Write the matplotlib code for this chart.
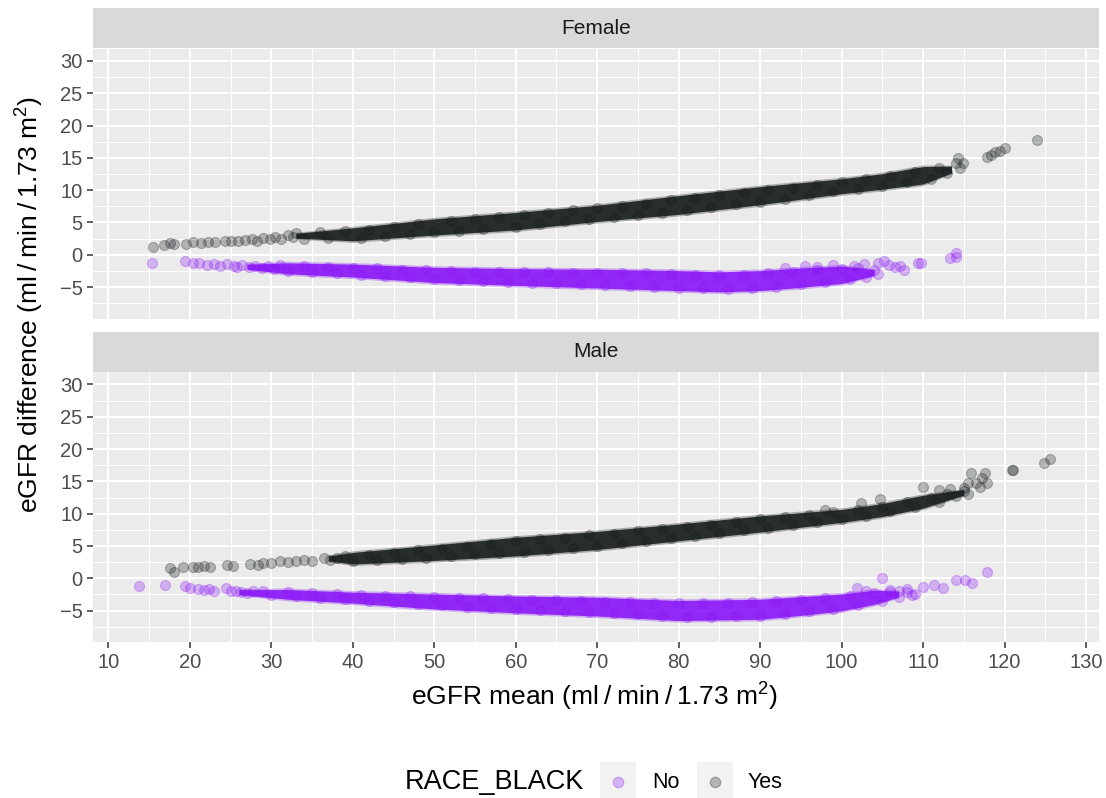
import matplotlib
matplotlib.use("Agg")
import matplotlib.pyplot as plt
import numpy as np
from matplotlib.patches import Rectangle
from matplotlib.lines import Line2D

plt.rcParams['font.family'] = ['Liberation Sans', 'DejaVu Sans']
plt.rcParams['mathtext.default'] = 'regular'

# ---------------- data ----------------
panels = ["Female", "Male"]
groups = ["No", "Yes"]
x_ticks = [10, 20, 30, 40, 50, 60, 70, 80, 90, 100, 110, 120, 130]
y_ticks = [-5, 0, 5, 10, 15, 20, 25, 30]

# dense core of each cloud: x, lower edge, upper edge (point centres)
fem_yes_band_x = [33, 40, 50, 60, 70, 80, 90, 100, 105, 110, 113.5]
fem_yes_band_lo = [2.9, 2.7, 3.6, 4.4, 5.7, 6.8, 8.3, 10.0, 10.7, 11.5, 13.0]
fem_yes_band_hi = [3.0, 3.6, 5.0, 6.0, 7.1, 8.6, 10.0, 11.2, 12.0, 13.1, 13.4]

fem_no_band_x = [27, 32, 40, 50, 60, 70, 80, 85, 90, 95, 100, 104]
fem_no_band_lo = [-1.9, -2.4, -2.9, -3.75, -4.2, -4.6, -5.0, -5.2, -5.0, -4.5, -3.9, -2.9]
fem_no_band_hi = [-1.8, -1.8, -2.0, -2.5, -2.7, -2.8, -3.0, -3.2, -3.0, -2.6, -2.3, -2.6]

male_yes_band_x = [37, 40, 50, 60, 70, 80, 90, 100, 105, 110, 115]
male_yes_band_lo = [3.0, 2.75, 3.3, 4.0, 5.0, 6.35, 7.7, 9.2, 10.1, 11.4, 13.2]
male_yes_band_hi = [3.1, 3.45, 4.6, 5.8, 6.7, 7.85, 9.1, 10.1, 11.0, 12.3, 13.4]

male_no_band_x = [26, 32, 40, 50, 60, 70, 80, 90, 95, 100, 104, 107]
male_no_band_lo = [-2.2, -2.7, -3.3, -4.2, -4.8, -5.3, -6.0, -5.8, -5.2, -4.5, -3.5, -2.6]
male_no_band_hi = [-2.1, -2.3, -2.7, -3.0, -3.3, -3.5, -4.0, -3.8, -3.4, -3.0, -2.4, -2.3]

# individual points (edges of the clouds and sparse tails)
fem_yes_pts = [
    (15.5, 1.25), (16.8, 1.5), (17.6, 1.8), (18.1, 1.7), (19.5, 1.7), (20.4, 1.9),
    (21.3, 1.8), (22.2, 2.0), (23.1, 1.9), (24.3, 2.1), (25.1, 2.2), (25.9, 2.1),
    (26.8, 2.3), (27.6, 2.4), (28.2, 2.2), (29.0, 2.6), (29.8, 2.4), (30.5, 2.8),
    (31.2, 2.5), (32.0, 3.0), (32.6, 2.7),
    (33, 3.3), (34, 2.5), (36, 3.5), (37, 2.6), (39, 3.7), (41, 2.6), (42, 3.9),
    (44, 2.9), (45, 4.3), (47, 3.2), (48, 4.8), (50, 3.5), (52, 5.2), (53, 3.7),
    (55, 5.5), (56, 4.0), (58, 5.9), (60, 4.3), (61, 6.2), (63, 4.7), (64, 6.5),
    (66, 5.2), (67, 6.9), (69, 5.5), (70, 7.2), (72, 5.9), (73, 7.6), (75, 6.1),
    (76, 7.9), (78, 6.5), (79, 8.5), (81, 7.0), (82, 8.8), (84, 7.4), (85, 9.2),
    (87, 7.9), (88, 9.6), (90, 8.2), (91, 10.1), (93, 8.7), (94, 10.4), (96, 9.3),
    (97, 10.8), (99, 9.8), (100, 11.3), (102, 10.2), (103, 11.8), (105, 10.6),
    (106, 12.2), (108, 11.2), (109, 12.8), (111, 11.8), (112, 13.4), (113, 12.6),
    (114, 14.2), (114.3, 15.0), (114.9, 14.2), (114.5, 13.5),
    (117.8, 15.15), (118.3, 15.5), (118.8, 15.9), (119.4, 16.0), (120.1, 16.5),
    (124.0, 17.7),
]
fem_no_pts = [
    (15.4, -1.2), (19.4, -0.9), (20.4, -1.2), (21.1, -1.3), (22.1, -1.6), (22.9, -1.4),
    (23.7, -1.7), (24.5, -1.5), (25.4, -1.8), (25.8, -1.9), (26.4, -1.6), (27.2, -1.9),
    (28.0, -1.7), (28.8, -2.1), (29.6, -1.8), (30.3, -2.2),
    (31, -1.6), (32, -2.5), (34, -1.8), (35, -2.7), (37, -1.9), (38, -2.9), (40, -2.0),
    (41, -3.1), (43, -2.1), (44, -3.3), (46, -2.3), (47, -3.5), (49, -2.4), (50, -3.8),
    (52, -2.5), (53, -3.9), (55, -2.6), (56, -4.0), (58, -2.6), (59, -4.2), (61, -2.7),
    (62, -4.3), (64, -2.7), (65, -4.4), (67, -2.8), (68, -4.6), (70, -2.8), (71, -4.7),
    (73, -2.9), (74, -4.8), (76, -2.9), (77, -5.0), (79, -3.0), (80, -5.1), (82, -3.1),
    (83, -5.2), (85, -3.2), (86, -5.3), (88, -3.1), (89, -5.1), (91, -2.9), (92, -5.0),
    (94, -2.6), (95, -4.6), (97, -2.4), (98, -4.2), (100, -2.2), (101, -3.8),
    (102, -2.0), (103, -3.5), (104, -2.3), (104.5, -3.0),
    (93.0, -2.0), (95.5, -1.8), (97.0, -1.9), (99.0, -1.6), (101.5, -1.7), (102.8, -1.5),
    (104.5, -1.3), (105.2, -0.9), (105.8, -1.6), (106.5, -1.9), (107.2, -1.8),
    (107.6, -2.3), (109.4, -1.3), (109.8, -1.2), (113.3, -0.55), (114.0, 0.3),
    (114.1, -0.3),
]
male_yes_pts = [
    (17.6, 1.55), (18.0, 1.0), (19.2, 1.8), (20.4, 1.8), (21.0, 1.7), (21.7, 1.9),
    (22.5, 1.8), (24.6, 2.05), (25.3, 1.9), (27.4, 2.2), (28.3, 2.1), (29.0, 2.3),
    (30.0, 2.4), (31.1, 2.7), (32.0, 2.5), (33.0, 2.7), (34.0, 2.8), (35.0, 2.6),
    (36.4, 3.1), (37.2, 2.9), (38.0, 3.2),
    (39, 3.4), (40, 2.6), (42, 3.6), (43, 2.8), (45, 3.9), (46, 3.0), (48, 4.3),
    (49, 3.2), (51, 4.6), (52, 3.4), (54, 4.9), (55, 3.7), (57, 5.3), (58, 3.9),
    (60, 5.8), (61, 4.1), (63, 6.0), (64, 4.4), (66, 6.3), (67, 4.7), (69, 6.7),
    (70, 5.0), (72, 6.9), (73, 5.4), (75, 7.3), (76, 5.8), (78, 7.6), (79, 6.2),
    (81, 8.0), (82, 6.6), (84, 8.3), (85, 7.0), (87, 8.7), (88, 7.4), (90, 9.1),
    (91, 7.8), (93, 9.5), (94, 8.3), (96, 9.8), (97, 8.7), (99, 10.2), (100, 9.2),
    (102, 10.6), (103, 9.7), (105, 11.1), (106, 10.4), (108, 11.8), (109, 11.1),
    (111, 12.5), (112, 11.8), (113, 13.1), (114, 12.7), (115, 13.5), (115.5, 13.0),
    (98.0, 10.6), (102.4, 11.6), (104.7, 12.2), (110.0, 14.2), (112.0, 13.6),
    (113.3, 13.8), (115.0, 14.0), (115.5, 14.7), (116.5, 14.8), (117.0, 14.2),
    (117.8, 14.7), (117.2, 15.5), (115.9, 16.35), (117.6, 16.25), (120.9, 16.8),
    (121.1, 16.7), (124.8, 17.8), (125.6, 18.45),
]
male_no_pts = [
    (13.7, -1.2), (17.0, -1.05), (19.4, -1.2), (20.0, -1.5), (21.0, -1.6), (21.7, -1.8),
    (22.4, -1.7), (22.9, -2.0), (24.4, -1.55), (25.0, -1.9), (25.6, -2.0), (26.3, -2.1),
    (27.0, -2.3), (27.8, -1.9),
    (29, -2.0), (30, -2.6), (32, -2.2), (33, -2.8), (35, -2.3), (36, -3.0), (38, -2.5),
    (39, -3.2), (41, -2.6), (42, -3.5), (44, -2.7), (45, -3.7), (47, -2.8), (48, -4.0),
    (50, -2.9), (51, -4.2), (53, -3.0), (54, -4.4), (56, -3.1), (57, -4.6), (59, -3.2),
    (60, -4.8), (62, -3.3), (63, -4.9), (65, -3.4), (66, -5.1), (68, -3.5), (69, -5.2),
    (71, -3.6), (72, -5.4), (74, -3.7), (75, -5.6), (77, -3.8), (78, -5.9), (80, -3.9),
    (81, -6.0), (83, -3.9), (84, -6.0), (86, -3.9), (87, -5.9), (89, -3.7), (90, -5.8),
    (92, -3.5), (93, -5.5), (95, -3.3), (96, -5.1), (98, -3.0), (99, -4.7), (101, -2.8),
    (102, -4.2), (104, -2.3), (105, -3.5), (106, -2.1), (107, -2.9), (108, -2.2),
    (108.6, -2.6),
    (101.9, -1.5), (103.0, -2.0), (104.9, 0.0), (106.0, -1.8), (107.0, -2.0),
    (108.0, -1.6), (109.0, -2.4), (110.0, -1.3), (111.3, -1.0), (112.5, -1.5),
    (114.1, -0.25), (115.2, -0.2), (116.0, -0.8), (117.9, 0.9),
]

series = {
    ("Female", "No"): (fem_no_band_x, fem_no_band_lo, fem_no_band_hi, fem_no_pts),
    ("Female", "Yes"): (fem_yes_band_x, fem_yes_band_lo, fem_yes_band_hi, fem_yes_pts),
    ("Male", "No"): (male_no_band_x, male_no_band_lo, male_no_band_hi, male_no_pts),
    ("Male", "Yes"): (male_yes_band_x, male_yes_band_lo, male_yes_band_hi, male_yes_pts),
}

# ---------------- style ----------------
colors = {"No": "#8a16f6", "Yes": "#161b1b"}
PT_ALPHA = 0.28
PT_SIZE = 52
CORE_PAD = 0.55
HALO_PAD = 0.8
END_TAPER = 0.6      # pad factor at the two ends of each dense band
BG = "#ebebeb"
STRIP = "#d9d9d9"
W, H = 1106, 798

fig = plt.figure(figsize=(W / 100, H / 100), dpi=100)

def fx(px):
    return px / W

def fy(py):
    return 1 - py / H

panel_px = {"Female": (48.7, 318.7), "Male": (372.2, 642.2)}
strip_px = {"Female": (8, 48), "Male": (332, 371.5)}
x0, x1 = 93, 1099

for name in panels:
    top, bot = panel_px[name]
    ax = fig.add_axes([fx(x0), fy(bot), fx(x1) - fx(x0), (bot - top) / H])
    ax.set_facecolor(BG)
    ax.set_xlim(8.1, 131.6)
    ax.set_ylim(-9.9, 31.9)
    ax.set_xticks(x_ticks)
    ax.set_yticks(y_ticks)
    ax.set_xticks([t + 5 for t in x_ticks[:-1]], minor=True)
    ax.set_yticks([-7.5] + [t + 2.5 for t in y_ticks[:-1]], minor=True)
    ax.grid(True, which="major", color="white", linewidth=1.5)
    ax.grid(True, which="minor", color="white", linewidth=0.75)
    ax.set_axisbelow(True)
    for s in ax.spines.values():
        s.set_visible(False)
    ax.tick_params(which="minor", length=0)
    ax.tick_params(which="major", length=4.5, width=1.1, color="#333333",
                   labelcolor="#4d4d4d", labelsize=14.5, pad=3)
    if name == "Female":
        ax.tick_params(axis="x", which="major", length=0, labelbottom=False)

    for g in groups:
        bx, blo, bhi, pts = series[(name, g)]
        c = colors[g]
        bx = np.array(bx); blo = np.array(blo); bhi = np.array(bhi)
        taper = np.ones(len(bx))
        taper[0] = END_TAPER
        taper[-1] = END_TAPER
        ax.fill_between(bx, blo - HALO_PAD * taper, bhi + HALO_PAD * taper,
                        color=c, alpha=0.3, linewidth=0, zorder=2)
        ax.fill_between(bx, blo - CORE_PAD * taper, bhi + CORE_PAD * taper,
                        color=c, alpha=0.88, linewidth=0, zorder=2)
        px_ = [p[0] for p in pts]
        py_ = [p[1] for p in pts]
        ax.scatter(px_, py_, s=PT_SIZE, facecolor=c, edgecolor=c, alpha=PT_ALPHA,
                   linewidths=0.8, zorder=3)

    # strip
    st, sb = strip_px[name]
    fig.add_artist(Rectangle((fx(x0), fy(sb)), fx(x1) - fx(x0), (sb - st) / H,
                             transform=fig.transFigure, facecolor=STRIP,
                             edgecolor="none"))
    fig.text(fx((x0 + x1) / 2), fy((st + sb) / 2), name, ha="center", va="center",
             fontsize=15, color="#1a1a1a")

fig.text(fx(594), fy(697), "eGFR mean (ml\u2009/\u2009min\u2009/\u20091.73 m$^{2}$)",
         ha="center", va="center", fontsize=19, color="black")
fig.text(fx(30), fy(305), "eGFR difference (ml\u2009/\u2009min\u2009/\u20091.73 m$^{2}$)",
         ha="center", va="center", rotation=90, fontsize=19, color="black")

# legend
fig.text(fx(405), fy(782), "RACE_BLACK", ha="left", va="center", fontsize=19.5,
         color="black")
key_px = {"No": (600, 652), "Yes": (697, 748)}
for g in groups:
    kx, tx = key_px[g]
    fig.add_artist(Rectangle((fx(kx), fy(798)), 36 / W, 36 / H,
                             transform=fig.transFigure, facecolor="#f2f2f2",
                             edgecolor="none"))
    fig.add_artist(Line2D([fx(kx + 18)], [fy(782)], transform=fig.transFigure,
                          marker="o", markersize=7.5, color=colors[g],
                          alpha=PT_ALPHA, linestyle="none"))
    fig.text(fx(tx), fy(782), g, ha="left", va="center", fontsize=15.5,
             color="black")

fig.savefig("out.png", dpi=100)
